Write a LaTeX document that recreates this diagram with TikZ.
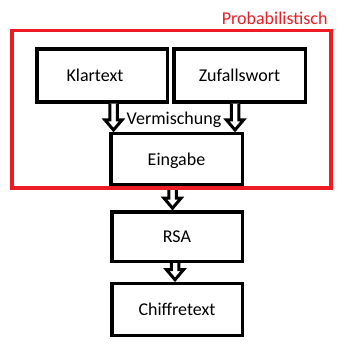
\documentclass[tikz,border=0pt]{standalone}
\usepackage{fontspec}
\setmainfont{Carlito}
\usetikzlibrary{calc}
\definecolor{framered}{RGB}{237,28,36}
\tikzset{
  box/.style={draw=black, line width=3.5pt, fill=white, inner sep=0pt,
    minimum width=131pt, minimum height=53pt,
    text height=12pt, text depth=0pt, font=\fontsize{18pt}{21pt}\selectfont},
  lbl/.style={inner sep=0pt, font=\fontsize{18pt}{21pt}\selectfont},
  harrow/.style={draw=black, fill=white, line width=3pt, line join=miter},
  frame/.style={draw=framered, line width=3.5pt, inner sep=0pt}
}
% #1 source node, #2 target node, #3 horizontal offset from source centre
\newcommand\hollowarrow[3]{%
  \filldraw[harrow] let \p1=(#1.south), \p2=(#2.north) in
    (\x1+#3-3.75pt,\y1) -- (\x1+#3-3.75pt,\y2+12pt) -- (\x1+#3-8.5pt,\y2+12pt)
    -- (\x1+#3,\y2+2pt) -- (\x1+#3+8.5pt,\y2+12pt) -- (\x1+#3+3.75pt,\y2+12pt)
    -- (\x1+#3+3.75pt,\y1);
}
\begin{document}
\begin{tikzpicture}[x=1pt,y=-1pt]
\useasboundingbox (0,0) rectangle (348,347);
\node[box, minimum width=130.5pt] (klar) at (102,75.5) {Klartext\hspace*{14pt}};
\node[box, minimum width=131.5pt] (zuf) at (239.5,75.5) {Zufallswort};
\node[box, minimum width=131.5pt, minimum height=51.5pt] (ein) at (176.5,159.5) {Eingabe};
\node[box, minimum width=130.5pt, minimum height=49.5pt] (rsa) at (177,236.7) {RSA};
\node[box, minimum width=130.5pt, minimum height=52pt] (chif) at (177,309.5) {Chiffretext};
\node[lbl, anchor=base] (mix) at (174,125) {Vermischung};
\hollowarrow{klar}{ein}{11.5pt}
\hollowarrow{zuf}{ein}{-4.5pt}
\hollowarrow{ein}{rsa}{-4pt}
\hollowarrow{rsa}{chif}{-2pt}
\node[frame, minimum width=319pt, minimum height=157.7pt] (prob) at (171.5,109.15) {};
\node[lbl, text=framered, anchor=base east] (probl) at ($(prob.north east)+(-5,-4.5)$) {Probabilistisch};
\end{tikzpicture}
\end{document}
